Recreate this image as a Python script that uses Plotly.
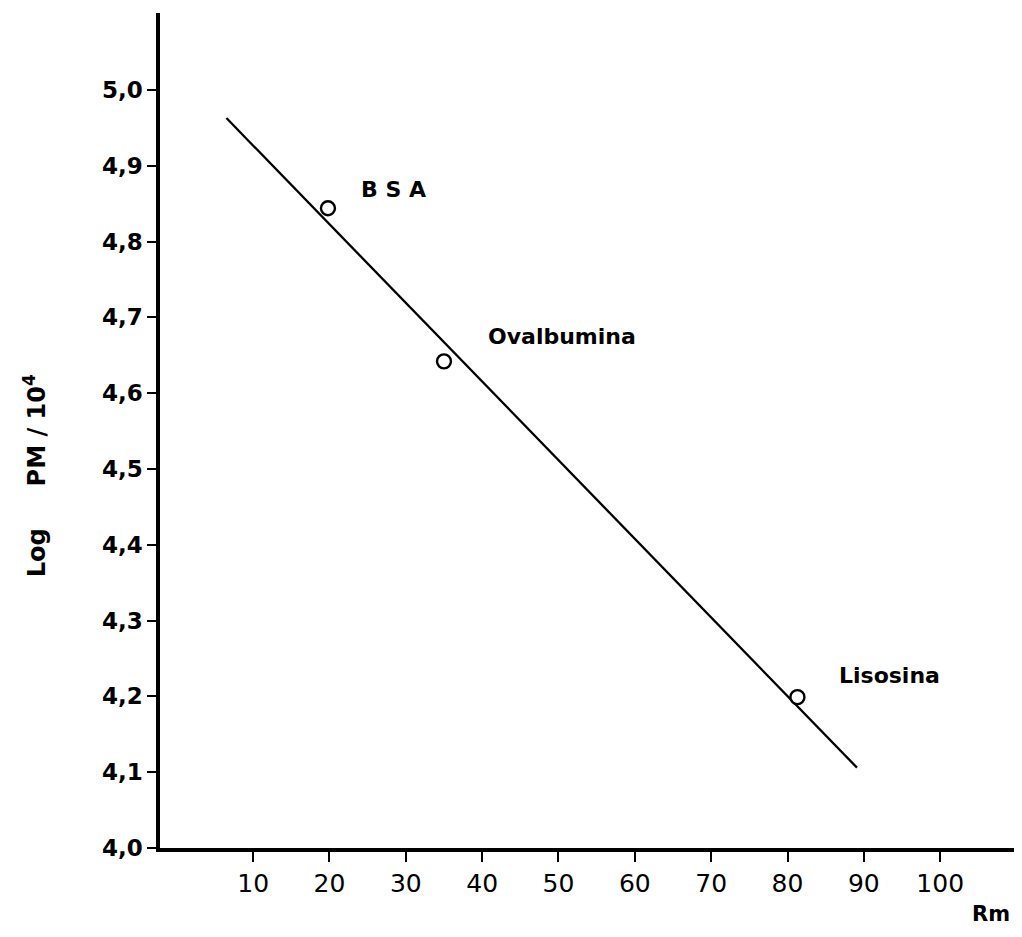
import plotly.graph_objects as go

# Data
proteins = ["BSA", "Ovalbumina", "Lisosina"]
rm_values = [19.8, 35.0, 81.3]
log_pm = [4.844, 4.642, 4.199]

fit_rm = [6.5, 89.1]
fit_log_pm = [4.963, 4.106]

x_tick_vals = [10, 20, 30, 40, 50, 60, 70, 80, 90, 100]
x_tick_text = ["10", "20", "30", "40", "50", "60", "70", "80", "90", "100"]
y_tick_vals = [4.0, 4.1, 4.2, 4.3, 4.4, 4.5, 4.6, 4.7, 4.8, 4.9, 5.0]
y_tick_text = ["4,0", "4,1", "4,2", "4,3", "4,4", "4,5", "4,6", "4,7", "4,8", "4,9", "5,0"]

label_x = [28.4, 50.5, 93.4]
label_y = [4.869, 4.675, 4.227]
label_text = ["B S A", "Ovalbumina", "Lisosina"]

font_family = "DejaVu Sans"

fig = go.Figure()

fig.add_trace(go.Scatter(
    x=fit_rm, y=fit_log_pm, mode="lines",
    line=dict(color="black", width=2.3),
    showlegend=False, hoverinfo="skip",
))

fig.add_trace(go.Scatter(
    x=rm_values, y=log_pm, mode="markers", text=proteins,
    marker=dict(symbol="circle", size=14, color="white",
                line=dict(color="black", width=2.4)),
    showlegend=False,
))

for tx, ty, tt in zip(label_x, label_y, label_text):
    fig.add_annotation(x=tx, y=ty, text="<b>" + tt + "</b>", showarrow=False,
                       font=dict(family=font_family, size=22, color="black"))

fig.add_annotation(x=106.6, y=-0.0796, xref="x", yref="paper", text="<b>Rm</b>",
                   xanchor="center", yanchor="middle",
                   showarrow=False, font=dict(family=font_family, size=21, color="black"))

fig.add_annotation(x=-0.146, y=0.4455, xref="paper", yref="paper",
                   xanchor="center", yanchor="middle",
                   text="<b>Log     PM / 10<sup>4</sup></b>", textangle=-90,
                   showarrow=False, font=dict(family=font_family, size=24, color="black"))

fig.update_layout(
    width=1014, height=929,
    margin=dict(l=152, r=7, t=5, b=89),
    paper_bgcolor="white", plot_bgcolor="white",
    xaxis=dict(
        range=[-2.2, 109.8],
        showline=True, linecolor="black", linewidth=3.5,
        showgrid=False, zeroline=False,
        ticks="outside", ticklen=10, tickwidth=2, tickcolor="black",
        tickvals=x_tick_vals, ticktext=x_tick_text,
        tickfont=dict(family=font_family, size=25, color="black"),
    ),
    yaxis=dict(
        range=[4.0, 5.1016],
        showline=True, linecolor="black", linewidth=3.5,
        showgrid=False, zeroline=False,
        ticks="outside", ticklen=9, tickwidth=2, tickcolor="black",
        tickvals=y_tick_vals, ticktext=["<b>" + t + "</b>" for t in y_tick_text],
        tickfont=dict(family=font_family, size=23, color="black"),
    ),
)

fig.write_html("out.html")
